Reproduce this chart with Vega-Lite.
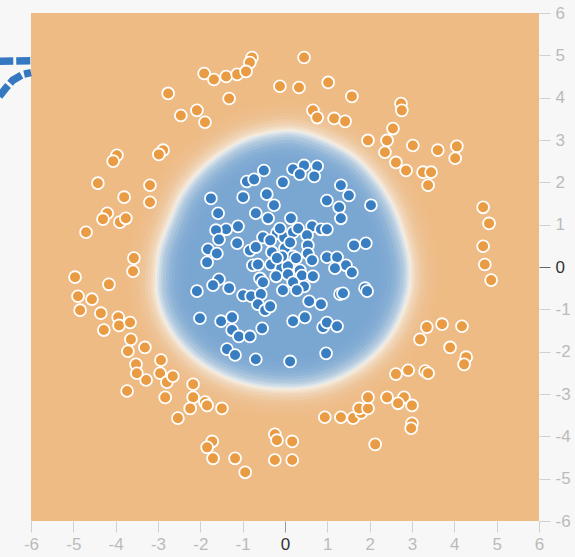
{
  "$schema": "https://vega.github.io/schema/vega-lite/v6.json",
  "width": 508,
  "height": 508,
  "autosize": {"type": "none"},
  "padding": {"left": 31, "top": 13, "right": 36, "bottom": 36},
  "background": "#f7f7f7",
  "view": {"fill": "#EEBB85", "stroke": null},
  "datasets": {
    "links": [
      {"id": "a", "i": 0, "x": -6.75, "y": 4.86},
      {"id": "a", "i": 1, "x": -6.0, "y": 4.87},
      {"id": "b", "i": 0, "x": -6.75, "y": 4.03},
      {"id": "b", "i": 1, "x": -6.6, "y": 4.22},
      {"id": "b", "i": 2, "x": -6.43, "y": 4.41},
      {"id": "b", "i": 3, "x": -6.19, "y": 4.55},
      {"id": "b", "i": 4, "x": -6.0, "y": 4.59}
    ],
    "blob": [
      {"i": 0, "x": 0.15, "y": 3.21},
      {"i": 1, "x": 0.8, "y": 3.05},
      {"i": 2, "x": 1.58, "y": 2.64},
      {"i": 3, "x": 2.13, "y": 2.09},
      {"i": 4, "x": 2.53, "y": 1.46},
      {"i": 5, "x": 2.77, "y": 0.82},
      {"i": 6, "x": 2.93, "y": 0.11},
      {"i": 7, "x": 2.9, "y": -0.62},
      {"i": 8, "x": 2.6, "y": -1.42},
      {"i": 9, "x": 2.13, "y": -2.04},
      {"i": 10, "x": 1.49, "y": -2.51},
      {"i": 11, "x": 0.78, "y": -2.79},
      {"i": 12, "x": 0, "y": -2.87},
      {"i": 13, "x": -0.9, "y": -2.76},
      {"i": 14, "x": -1.7, "y": -2.44},
      {"i": 15, "x": -2.32, "y": -1.97},
      {"i": 16, "x": -2.79, "y": -1.33},
      {"i": 17, "x": -3.02, "y": -0.62},
      {"i": 18, "x": -3.0, "y": 0.16},
      {"i": 19, "x": -2.92, "y": 0.55},
      {"i": 20, "x": -2.72, "y": 1.08},
      {"i": 21, "x": -2.41, "y": 1.76},
      {"i": 22, "x": -1.84, "y": 2.42},
      {"i": 23, "x": -1.1, "y": 2.93},
      {"i": 24, "x": -0.45, "y": 3.15}
    ],
    "pts": [
      {"c":"o","x":-0.78,"y":4.95},{"c":"o","x":-0.83,"y":4.83},{"c":"o","x":0.45,"y":4.95},{"c":"o","x":-1.91,"y":4.57},
      {"c":"o","x":-1.68,"y":4.43},{"c":"o","x":-1.39,"y":4.5},{"c":"o","x":-1.13,"y":4.55},{"c":"o","x":-0.92,"y":4.62},
      {"c":"o","x":-2.76,"y":4.1},{"c":"o","x":-0.12,"y":4.27},{"c":"o","x":0.33,"y":4.24},{"c":"o","x":1.02,"y":4.36},
      {"c":"o","x":-1.32,"y":3.98},{"c":"o","x":1.58,"y":4.03},{"c":"o","x":2.74,"y":3.86},{"c":"o","x":2.76,"y":3.7},
      {"c":"o","x":-2.08,"y":3.7},{"c":"o","x":-1.89,"y":3.42},{"c":"o","x":-2.46,"y":3.58},{"c":"o","x":0.66,"y":3.7},
      {"c":"o","x":0.76,"y":3.53},{"c":"o","x":1.16,"y":3.51},{"c":"o","x":1.42,"y":3.44},{"c":"o","x":2.55,"y":3.27},
      {"c":"o","x":1.96,"y":2.99},{"c":"o","x":2.41,"y":2.99},{"c":"o","x":2.36,"y":2.71},{"c":"o","x":2.62,"y":2.47},
      {"c":"o","x":2.86,"y":2.28},{"c":"o","x":3.02,"y":2.87},{"c":"o","x":3.26,"y":2.24},{"c":"o","x":3.45,"y":2.24},
      {"c":"o","x":3.38,"y":1.93},{"c":"o","x":3.61,"y":2.76},{"c":"o","x":4.06,"y":2.85},{"c":"o","x":4.02,"y":2.57},
      {"c":"o","x":4.68,"y":1.41},{"c":"o","x":4.82,"y":1.03},{"c":"o","x":4.68,"y":0.49},{"c":"o","x":4.72,"y":0.06},
      {"c":"o","x":4.87,"y":-0.31},{"c":"o","x":-2.88,"y":2.76},{"c":"o","x":-2.98,"y":2.66},{"c":"o","x":-3.97,"y":2.64},
      {"c":"o","x":-4.06,"y":2.5},{"c":"o","x":-4.42,"y":1.98},{"c":"o","x":-3.8,"y":1.65},{"c":"o","x":-3.19,"y":1.93},
      {"c":"o","x":-3.19,"y":1.53},{"c":"o","x":-4.2,"y":1.27},{"c":"o","x":-4.3,"y":1.13},{"c":"o","x":-3.9,"y":1.06},
      {"c":"o","x":-3.76,"y":1.15},{"c":"o","x":-4.7,"y":0.82},{"c":"o","x":-3.57,"y":0.21},{"c":"o","x":-3.59,"y":-0.1},
      {"c":"o","x":-4.96,"y":-0.24},{"c":"o","x":-4.89,"y":-0.69},{"c":"o","x":-4.84,"y":-1.02},{"c":"o","x":-4.56,"y":-0.76},
      {"c":"o","x":-4.16,"y":-0.41},{"c":"o","x":-4.35,"y":-1.09},{"c":"o","x":-3.94,"y":-1.19},{"c":"o","x":-3.92,"y":-1.38},
      {"c":"o","x":-3.66,"y":-1.31},{"c":"o","x":-3.64,"y":-1.71},{"c":"o","x":-4.28,"y":-1.49},{"c":"o","x":-3.31,"y":-1.9},
      {"c":"o","x":-3.71,"y":-1.99},{"c":"o","x":-2.93,"y":-2.2},{"c":"o","x":-2.95,"y":-2.51},{"c":"o","x":-2.79,"y":-2.72},
      {"c":"o","x":-2.65,"y":-2.58},{"c":"o","x":-3.28,"y":-2.67},{"c":"o","x":-3.52,"y":-2.3},{"c":"o","x":-3.5,"y":-2.51},
      {"c":"o","x":-3.73,"y":-2.93},{"c":"o","x":-2.17,"y":-2.77},{"c":"o","x":-2.83,"y":-3.08},{"c":"o","x":-2.17,"y":-3.08},
      {"c":"o","x":-1.89,"y":-3.19},{"c":"o","x":-1.84,"y":-3.27},{"c":"o","x":-1.49,"y":-3.34},{"c":"o","x":-2.24,"y":-3.34},
      {"c":"o","x":-2.53,"y":-3.57},{"c":"o","x":-1.72,"y":-4.12},{"c":"o","x":-1.84,"y":-4.26},{"c":"o","x":-1.7,"y":-4.52},
      {"c":"o","x":-1.18,"y":-4.52},{"c":"o","x":-0.94,"y":-4.85},{"c":"o","x":-0.24,"y":-3.95},{"c":"o","x":-0.19,"y":-4.09},
      {"c":"o","x":0.17,"y":-4.12},{"c":"o","x":-0.24,"y":-4.56},{"c":"o","x":0.17,"y":-4.56},{"c":"o","x":0.94,"y":-3.55},
      {"c":"o","x":1.32,"y":-3.55},{"c":"o","x":1.61,"y":-3.57},{"c":"o","x":1.8,"y":-3.45},{"c":"o","x":2.13,"y":-4.19},
      {"c":"o","x":1.75,"y":-3.34},{"c":"o","x":1.96,"y":-3.34},{"c":"o","x":1.96,"y":-3.08},{"c":"o","x":2.41,"y":-3.08},
      {"c":"o","x":2.81,"y":-3.08},{"c":"o","x":2.67,"y":-3.22},{"c":"o","x":3.0,"y":-3.27},{"c":"o","x":3.0,"y":-3.69},
      {"c":"o","x":2.98,"y":-3.81},{"c":"o","x":2.62,"y":-2.53},{"c":"o","x":2.91,"y":-2.44},{"c":"o","x":3.31,"y":-2.46},
      {"c":"o","x":3.38,"y":-2.51},{"c":"o","x":3.35,"y":-1.42},{"c":"o","x":3.19,"y":-1.71},{"c":"o","x":3.71,"y":-1.35},
      {"c":"o","x":4.18,"y":-1.4},{"c":"o","x":3.9,"y":-1.9},{"c":"o","x":4.28,"y":-2.13},{"c":"o","x":4.23,"y":-2.3},
      {"c":"b","x":-0.5,"y":2.28},{"c":"b","x":-0.9,"y":2.02},{"c":"b","x":-0.73,"y":2.07},{"c":"b","x":-0.05,"y":2.0},
      {"c":"b","x":0.19,"y":2.31},{"c":"b","x":0.45,"y":2.4},{"c":"b","x":0.76,"y":2.38},{"c":"b","x":0.35,"y":2.19},
      {"c":"b","x":0.69,"y":2.14},{"c":"b","x":1.32,"y":1.93},{"c":"b","x":1.51,"y":1.69},{"c":"b","x":0.99,"y":1.57},
      {"c":"b","x":1.28,"y":1.41},{"c":"b","x":1.32,"y":1.15},{"c":"b","x":2.03,"y":1.46},{"c":"b","x":-1.75,"y":1.62},
      {"c":"b","x":-0.99,"y":1.65},{"c":"b","x":-0.43,"y":1.72},{"c":"b","x":-0.26,"y":1.46},{"c":"b","x":-1.58,"y":1.27},
      {"c":"b","x":-0.69,"y":1.27},{"c":"b","x":-0.4,"y":1.15},{"c":"b","x":0.14,"y":1.15},{"c":"b","x":-1.11,"y":0.96},
      {"c":"b","x":-1.39,"y":0.89},{"c":"b","x":-1.63,"y":0.87},{"c":"b","x":-1.56,"y":0.65},{"c":"b","x":-1.13,"y":0.56},
      {"c":"b","x":-0.52,"y":0.7},{"c":"b","x":-0.19,"y":0.8},{"c":"b","x":-0.02,"y":0.7},{"c":"b","x":0.19,"y":0.82},
      {"c":"b","x":0.31,"y":0.91},{"c":"b","x":0.64,"y":0.96},{"c":"b","x":0.85,"y":0.89},{"c":"b","x":0.99,"y":0.89},
      {"c":"b","x":0.52,"y":0.75},{"c":"b","x":-0.83,"y":0.39},{"c":"b","x":-0.69,"y":0.47},{"c":"b","x":-0.31,"y":0.35},
      {"c":"b","x":0.0,"y":0.44},{"c":"b","x":0.54,"y":0.51},{"c":"b","x":0.54,"y":0.32},{"c":"b","x":0.19,"y":0.25},
      {"c":"b","x":0.64,"y":0.16},{"c":"b","x":0.99,"y":0.23},{"c":"b","x":1.23,"y":0.23},{"c":"b","x":1.44,"y":0.04},
      {"c":"b","x":1.58,"y":-0.13},{"c":"b","x":1.18,"y":-0.03},{"c":"b","x":1.63,"y":0.51},{"c":"b","x":1.91,"y":0.56},
      {"c":"b","x":-1.82,"y":0.42},{"c":"b","x":-1.61,"y":0.32},{"c":"b","x":-1.84,"y":0.11},{"c":"b","x":-0.76,"y":0.04},
      {"c":"b","x":-0.64,"y":0.06},{"c":"b","x":-0.33,"y":0.06},{"c":"b","x":-0.09,"y":-0.03},{"c":"b","x":0.07,"y":0.02},
      {"c":"b","x":0.35,"y":-0.08},{"c":"b","x":0.07,"y":-0.17},{"c":"b","x":0.4,"y":-0.2},{"c":"b","x":0.66,"y":-0.22},
      {"c":"b","x":-0.59,"y":-0.27},{"c":"b","x":-0.52,"y":-0.36},{"c":"b","x":0.19,"y":-0.36},{"c":"b","x":0.45,"y":-0.46},
      {"c":"b","x":0.28,"y":-0.55},{"c":"b","x":-0.05,"y":-0.55},{"c":"b","x":-1.56,"y":-0.29},{"c":"b","x":-1.7,"y":-0.43},
      {"c":"b","x":-1.32,"y":-0.5},{"c":"b","x":-2.08,"y":-0.57},{"c":"b","x":-0.99,"y":-0.67},{"c":"b","x":-0.8,"y":-0.69},
      {"c":"b","x":-0.57,"y":-0.64},{"c":"b","x":-0.64,"y":-0.88},{"c":"b","x":-0.47,"y":-1.02},{"c":"b","x":-0.35,"y":-0.93},
      {"c":"b","x":0.57,"y":-0.81},{"c":"b","x":0.85,"y":-0.88},{"c":"b","x":1.3,"y":-0.64},{"c":"b","x":1.37,"y":-0.62},
      {"c":"b","x":1.89,"y":-0.5},{"c":"b","x":1.94,"y":-0.57},{"c":"b","x":-2.01,"y":-1.21},{"c":"b","x":-1.51,"y":-1.28},
      {"c":"b","x":-1.25,"y":-1.19},{"c":"b","x":-1.25,"y":-1.49},{"c":"b","x":-1.09,"y":-1.64},{"c":"b","x":-0.83,"y":-1.64},
      {"c":"b","x":-0.54,"y":-1.45},{"c":"b","x":0.19,"y":-1.28},{"c":"b","x":0.47,"y":-1.19},{"c":"b","x":0.9,"y":-1.42},
      {"c":"b","x":0.99,"y":-1.31},{"c":"b","x":1.23,"y":-1.4},{"c":"b","x":-1.37,"y":-1.94},{"c":"b","x":-1.18,"y":-2.08},
      {"c":"b","x":-0.69,"y":-2.18},{"c":"b","x":0.12,"y":-2.23},{"c":"b","x":0.97,"y":-2.04},{"c":"b","x":-0.35,"y":0.63},
      {"c":"b","x":-0.12,"y":0.91},{"c":"b","x":0.12,"y":0.58},{"c":"b","x":0.26,"y":0.21},{"c":"b","x":-0.21,"y":-0.22},
      {"c":"b","x":-0.07,"y":0.25},{"c":"b","x":-0.19,"y":0.21}
    ]
  },
  "encoding": {
    "x": {
      "field": "x", "type": "quantitative",
      "scale": {"domain": [-6, 6], "nice": false, "zero": false},
      "axis": {
        "orient": "bottom", "title": null, "domain": false, "grid": false,
        "values": [-6, -5, -4, -3, -2, -1, 0, 1, 2, 3, 4, 5, 6],
        "tickSize": 11,
        "tickColor": {"condition": {"test": "datum.value === 0", "value": "#999"}, "value": "#d0d0d0"},
        "labelColor": {"condition": {"test": "datum.value === 0", "value": "#333"}, "value": "#bbbbbb"},
        "labelFont": "Liberation Sans", "labelFontSize": 17, "labelPadding": 4,
        "labelFlush": false, "labelOverlap": false, "labelExpr": "'' + datum.value"
      }
    },
    "y": {
      "field": "y", "type": "quantitative",
      "scale": {"domain": [-6, 6], "nice": false, "zero": false},
      "axis": {
        "orient": "right", "title": null, "domain": false, "grid": false,
        "values": [-6, -5, -4, -3, -2, -1, 0, 1, 2, 3, 4, 5, 6],
        "tickSize": 11,
        "tickColor": {"condition": {"test": "datum.value === 0", "value": "#666"}, "value": "#d0d0d0"},
        "labelColor": {"condition": {"test": "datum.value === 0", "value": "#333"}, "value": "#bbbbbb"},
        "labelFont": "Liberation Sans", "labelFontSize": 17, "labelPadding": 5,
        "labelFlush": false, "labelOverlap": false, "labelExpr": "'' + datum.value"
      }
    }
  },
  "layer": [
    {
      "data": {"name": "links"},
      "mark": {"type": "line", "color": "#3478c1", "strokeWidth": 7.5, "strokeDash": [14, 3]},
      "encoding": {"detail": {"field": "id"}, "order": {"field": "i", "type": "quantitative"}}
    },
    {
      "data": {"name": "blob"},
      "encoding": {"order": {"field": "i", "type": "quantitative"}},
      "layer": [
        {"mark": {"type": "line", "interpolate": "cardinal-closed", "fill": "#7AA6D2", "stroke": "#F7F6F2", "strokeWidth": 60, "strokeOpacity": 0.02}},
        {"mark": {"type": "line", "interpolate": "cardinal-closed", "stroke": "#F7F6F2", "strokeWidth": 52, "strokeOpacity": 0.026}},
        {"mark": {"type": "line", "interpolate": "cardinal-closed", "stroke": "#F7F6F2", "strokeWidth": 44, "strokeOpacity": 0.037}},
        {"mark": {"type": "line", "interpolate": "cardinal-closed", "stroke": "#F7F6F2", "strokeWidth": 36, "strokeOpacity": 0.054}},
        {"mark": {"type": "line", "interpolate": "cardinal-closed", "stroke": "#F7F6F2", "strokeWidth": 30, "strokeOpacity": 0.08}},
        {"mark": {"type": "line", "interpolate": "cardinal-closed", "stroke": "#F7F6F2", "strokeWidth": 24, "strokeOpacity": 0.125}},
        {"mark": {"type": "line", "interpolate": "cardinal-closed", "stroke": "#F7F6F2", "strokeWidth": 18, "strokeOpacity": 0.17}},
        {"mark": {"type": "line", "interpolate": "cardinal-closed", "stroke": "#F7F6F2", "strokeWidth": 12, "strokeOpacity": 0.22}},
        {"mark": {"type": "line", "interpolate": "cardinal-closed", "stroke": "#F7F6F2", "strokeWidth": 8, "strokeOpacity": 0.27}},
        {"mark": {"type": "line", "interpolate": "cardinal-closed", "stroke": "#F7F6F2", "strokeWidth": 4, "strokeOpacity": 0.45}}
      ]
    },
    {
      "data": {"name": "pts"},
      "mark": {"type": "point", "shape": "circle", "filled": true, "opacity": 1, "size": 140, "stroke": "white", "strokeWidth": 1.8},
      "encoding": {
        "color": {"field": "c", "type": "nominal", "scale": {"domain": ["o", "b"], "range": ["#EA9C44", "#3A7EC2"]}, "legend": null}
      }
    }
  ]
}
